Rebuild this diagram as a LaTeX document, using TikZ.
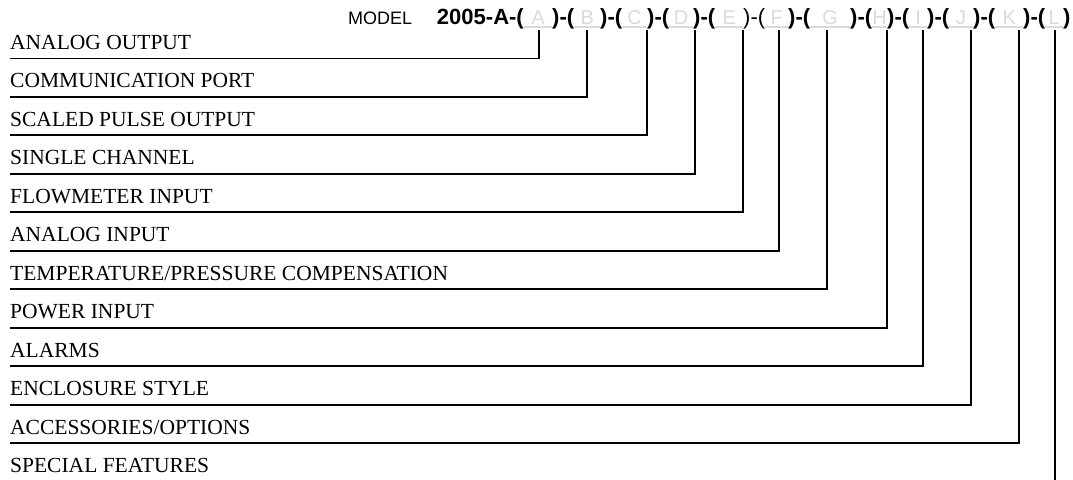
\documentclass[tikz,border=0pt]{standalone}
\usepackage{fontspec}
\setmainfont{Liberation Serif}
\setsansfont{Liberation Sans}
\usetikzlibrary{calc}

\definecolor{slotgray}{RGB}{218,218,218}
\definecolor{linegray}{RGB}{218,218,218}

\tikzset{
  lbl/.style={anchor=base west,inner sep=0pt,font=\fontsize{21.5bp}{24bp}\selectfont},
  wire/.style={line width=1.9bp},
  sep/.style={anchor=base west,inner sep=0pt,font=\sffamily\bfseries\fontsize{22bp}{24bp}\selectfont},
  slot/.style={anchor=base,inner sep=0pt,text=slotgray,font=\sffamily\fontsize{20bp}{22bp}\selectfont},
  uline/.style={draw=linegray,line width=1.5bp},
}

\begin{document}
\begin{tikzpicture}[x=1bp,y=-1bp]
\useasboundingbox (0,0) rectangle (1073,480);
\node[anchor=base west,inner sep=0pt,font=\sffamily\fontsize{18bp}{20bp}\selectfont] (model) at (348,25) {MODEL};
\node[sep,anchor=base east] (s0) at (524,25) {2005-A-(};
\foreach \i/\x in {1/552,2/600,3/647,4/693,6/788,7/850,8/887,9/927,10/973,11/1023}
  \node[sep] (s\i) at (\x,25) {)-(};
\node[sep,font=\sffamily\fontsize{22bp}{24bp}\selectfont] (s5) at (743,25) {)-(};
\node[sep] (s12) at (1063,25) {)};
\foreach \L [count=\i from 1] in {A,B,C,D,E,F,G,H,I,J,K,L}{
  \pgfmathtruncatemacro\p{\i-1}
  \draw[uline] ($(s\p.base east)+(0,2)$) -- ($(s\i.base west)+(0,2)$);
  \node[slot] (slot\L) at ($(s\p.base east)!.5!(s\i.base west)$) {\L};
}
\foreach \L/\txt/\x [count=\i from 0] in {A/ANALOG OUTPUT/539,B/COMMUNICATION PORT/587,%
  C/SCALED PULSE OUTPUT/647,D/SINGLE CHANNEL/695,E/FLOWMETER INPUT/743,%
  F/ANALOG INPUT/779,G/{TEMPERATURE/PRESSURE COMPENSATION}/827,H/POWER INPUT/887,%
  I/ALARMS/923,J/ENCLOSURE STYLE/971,K/{ACCESSORIES/OPTIONS}/1019,L/SPECIAL FEATURES/1055}{
  \pgfmathsetmacro\y{58.5+38.45*\i}
  \coordinate (end\L) at (10,\y);
  \coordinate (top\L) at (\x,30);
  \node[lbl] (lbl\L) at (10,\y-9) {\txt};
  \draw[wire] (end\L) -| (top\L);
}
\end{tikzpicture}
\end{document}
